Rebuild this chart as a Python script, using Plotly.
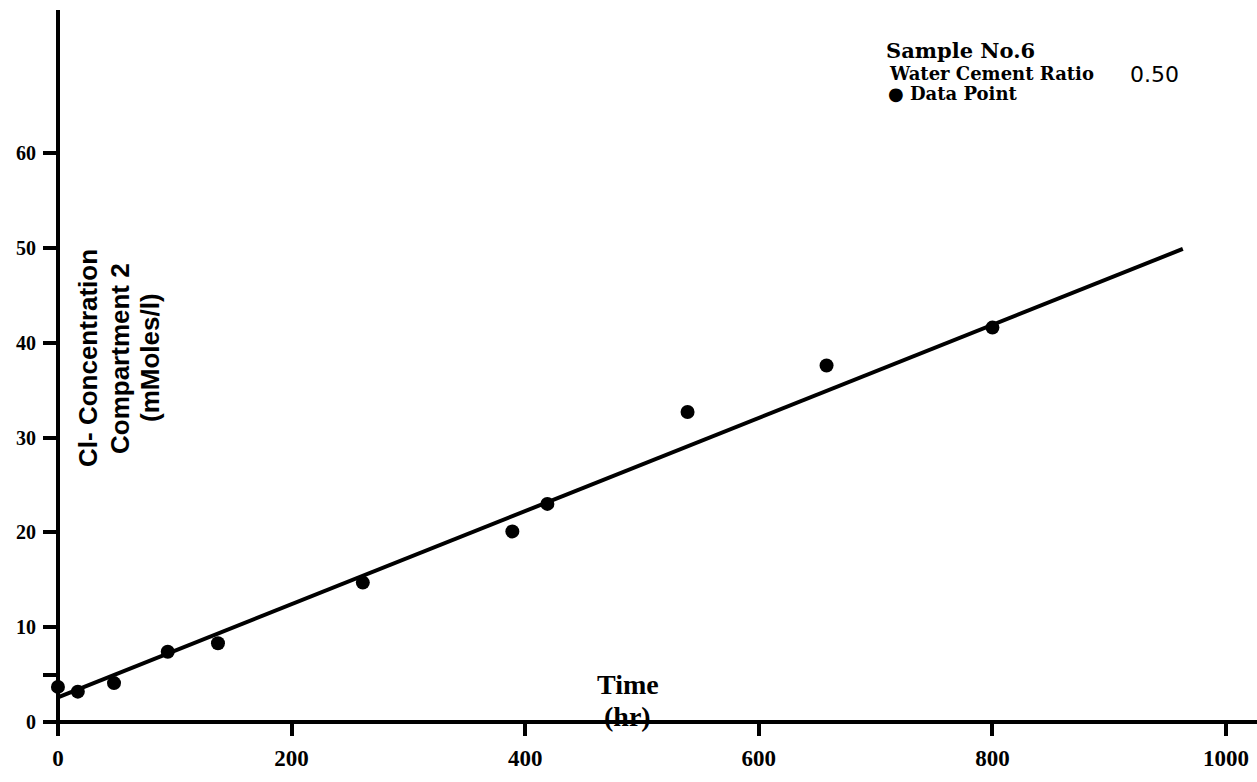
import plotly.graph_objects as go

# Chloride concentration in compartment 2 over time (Sample No. 6, w/c 0.50)
time_hr = [0, 17, 48, 94, 137, 261, 389, 419, 539, 658, 800]
cl_conc = [3.7, 3.2, 4.1, 7.4, 8.3, 14.7, 20.1, 23.0, 32.7, 37.6, 41.6]

# Straight-line fit drawn through the data
fit_time = [0, 963]
fit_conc = [2.6, 49.9]

x_ticks = [0, 200, 400, 600, 800, 1000]
x_tick_text = ["0", "200", "400", "600", "800", "1000"]
y_ticks = [0, 5, 10, 20, 30, 40, 50, 60]
y_tick_text = ["0", "", "10", "20", "30", "40", "50", "60"]

W, H = 1257, 782
ML, MR, MT, MB = 43, 0, 10, 46
PW, PH = W - ML - MR, H - MT - MB


def px(x, y):
    """Convert page pixel position to paper coordinates."""
    return (x - ML) / PW, (H - MB - y) / PH


fig = go.Figure()

fig.add_trace(go.Scatter(
    x=fit_time, y=fit_conc, mode="lines",
    line=dict(color="black", width=4),
    hoverinfo="skip",
))
fig.add_trace(go.Scatter(
    x=time_hr, y=cl_conc, mode="markers",
    marker=dict(color="black", size=14),
))

serif_bold = dict(family="Liberation Serif, Times New Roman, serif", color="black", weight="bold")
sans_bold = dict(family="Liberation Sans, Arial, sans-serif", color="black", weight="bold")
legend_font = dict(family="DejaVu Serif, serif", color="black", weight="bold", size=18)

annotations = []


def add_text(text, x, y, font, xanchor="center", yanchor="middle", angle=0):
    ax, ay = px(x, y)
    annotations.append(dict(
        text=text, x=ax, y=ay, xref="paper", yref="paper",
        xanchor=xanchor, yanchor=yanchor, showarrow=False,
        font=font, textangle=angle,
    ))


# Y-axis title, three rotated lines
add_text("Cl- Concentration", 88, 358, dict(sans_bold, size=26), angle=-90)
add_text("Compartment 2", 120, 359, dict(sans_bold, size=26), angle=-90)
add_text("(mMoles/l)", 150, 358, dict(sans_bold, size=26), angle=-90)

# X-axis title
add_text("Time", 628, 684, dict(serif_bold, size=28))
add_text("(hr)", 627, 716, dict(serif_bold, size=28))

# Key in the upper right corner
add_text("Sample No.6", 884, 50, dict(legend_font, size=21), xanchor="left")
add_text("Water Cement Ratio", 887, 73, legend_font, xanchor="left")
add_text("0.50", 1128, 74, dict(family="DejaVu Sans, sans-serif", color="black", size=22), xanchor="left")
add_text("\u25CF Data Point", 886, 94, legend_font, xanchor="left")

fig.update_layout(
    width=W, height=H, autosize=False,
    margin=dict(l=ML, r=MR, t=MT, b=MB, pad=0),
    paper_bgcolor="white", plot_bgcolor="white",
    showlegend=False,
    annotations=annotations,
    xaxis=dict(
        range=[-12.8, 1026.5],
        tickmode="array", tickvals=x_ticks, ticktext=x_tick_text,
        ticks="inside", ticklen=14, tickwidth=4, tickcolor="black",
        tickfont=dict(serif_bold, size=23),
        ticklabelstandoff=6,
        showgrid=False, showline=False,
        zeroline=True, zerolinecolor="black", zerolinewidth=4,
    ),
    yaxis=dict(
        range=[-1.48, 75.1],
        tickmode="array", tickvals=y_ticks, ticktext=y_tick_text,
        ticks="inside", ticklen=15, tickwidth=4, tickcolor="black",
        tickfont=dict(serif_bold, size=20),
        ticklabelstandoff=6,
        showgrid=False, showline=False,
        zeroline=True, zerolinecolor="black", zerolinewidth=4,
    ),
)

fig.write_html("out.html")
